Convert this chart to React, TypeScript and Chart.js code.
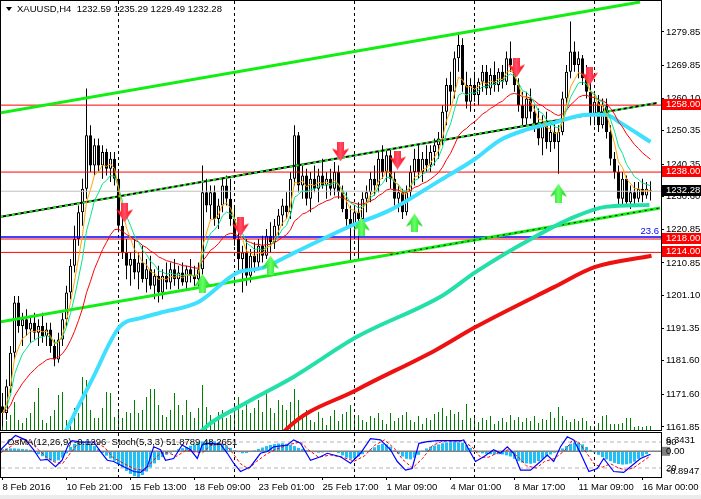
import React, { useEffect, useRef } from "react";
import { Chart, registerables } from "chart.js";

Chart.register(...registerables);

const FONT = '"Liberation Sans", Arial, sans-serif';

// ---------- price data (H4 candles) ----------
const opens = [
  1168,1166,1174,1184,1199,1192,1194,1191,1193,1190,
  1192,1189,1191,1186,1182,1188,1194,1202,1210,1218,
  1226,1233,1249,1240,1246,1240,1244,1239,1242,1236,
  1222,1214,1210,1212,1208,1211,1206,1209,1204,1207,
  1202,1207,1205,1209,1206,1208,1205,1209,1207,1206,
  1209,1232,1228,1232,1224,1228,1234,1230,1224,1218,
  1212,1214,1207,1213,1211,1216,1213,1219,1217,1222,
  1225,1228,1226,1236,1249,1234,1237,1230,1236,1233,
  1237,1234,1236,1233,1238,1232,1227,1224,1222,1226,
  1224,1230,1232,1236,1234,1242,1238,1243,1236,1230,
  1232,1226,1232,1238,1242,1238,1242,1240,1244,1246,
  1248,1256,1264,1262,1272,1276,1264,1259,1264,1261,
  1265,1268,1263,1267,1264,1268,1265,1272,1270,1264,
  1258,1254,1260,1256,1252,1248,1253,1247,1250,1247,
  1250,1260,1268,1274,1270,1272,1266,1262,1255,1259,
  1252,1258,1250,1242,1238,1230,1236,1229,1232,1230,
  1233,1231,1232.59,
];
const highs = [
  1172,1176,1186,1201,1201,1196,1197,1195,1196,1194,
  1196,1193,1193,1188,1190,1196,1204,1212,1222,1228,
  1236,1263,1252,1248,1248,1246,1245,1244,1244,1238,
  1226,1218,1214,1218,1214,1216,1212,1213,1209,1210,
  1209,1211,1211,1212,1210,1211,1210,1212,1210,1211,
  1240,1236,1234,1234,1230,1236,1237,1236,1228,1221,
  1216,1218,1215,1217,1218,1219,1221,1223,1224,1227,
  1230,1232,1238,1252,1250,1240,1239,1238,1240,1239,
  1242,1238,1239,1241,1240,1234,1232,1228,1228,1229,
  1232,1234,1238,1240,1244,1246,1245,1245,1238,1234,
  1233,1234,1240,1245,1246,1244,1246,1246,1248,1250,
  1258,1266,1268,1274,1279.5,1278,1268,1266,1268,1266,
  1270,1270,1269,1271,1269,1270,1274,1277,1272,1266,
  1262,1262,1263,1258,1257,1255,1256,1252,1253,1252,
  1262,1270,1283,1277,1274,1273,1270,1265,1262,1261,
  1260,1260,1252,1244,1240,1238,1237,1234,1235,1235,
  1236,1235,1235.29,
];
const lows = [
  1162,1164,1172,1182,1190,1186,1189,1187,1188,1186,
  1187,1186,1184,1180,1181,1186,1192,1200,1208,1216,
  1222,1230,1238,1237,1238,1236,1237,1235,1234,1220,
  1212,1206,1204,1206,1203,1205,1202,1203,1200,1199,
  1200,1203,1203,1204,1203,1204,1203,1205,1204,1204,
  1207,1226,1224,1222,1221,1226,1228,1222,1216,1208,
  1202,1204,1205,1208,1209,1211,1212,1214,1215,1219,
  1222,1224,1224,1234,1232,1230,1228,1226,1232,1229,
  1233,1230,1231,1231,1230,1226,1222,1211,1218,1212,
  1222,1226,1229,1231,1232,1236,1235,1233,1228,1226,
  1224,1225,1230,1234,1236,1235,1238,1238,1240,1242,
  1246,1252,1258,1260,1268,1262,1257,1256,1259,1258,
  1262,1261,1261,1262,1262,1263,1264,1268,1262,1256,
  1252,1252,1254,1250,1246,1243,1245,1244,1245,1237.5,
  1249,1258,1266,1268,1266,1264,1260,1252,1252,1250,
  1251,1248,1240,1236,1228,1228,1228,1227,1228,1229,
  1229,1230,1229.49,
];
const closes = [
  1166,1174,1184,1199,1192,1194,1191,1193,1190,1192,
  1189,1191,1186,1182,1188,1194,1202,1210,1218,1226,
  1233,1249,1240,1246,1240,1244,1239,1242,1236,1222,
  1214,1210,1212,1208,1211,1206,1209,1204,1207,1202,
  1207,1205,1209,1206,1208,1205,1209,1207,1206,1209,
  1232,1228,1232,1224,1228,1234,1230,1224,1218,1212,
  1214,1207,1213,1211,1216,1213,1219,1217,1222,1225,
  1228,1226,1236,1249,1234,1237,1230,1236,1233,1237,
  1234,1236,1233,1238,1232,1227,1224,1222,1226,1224,
  1230,1232,1236,1234,1242,1238,1243,1236,1230,1232,
  1226,1232,1238,1242,1238,1242,1240,1244,1246,1248,
  1256,1264,1262,1272,1276,1264,1259,1264,1261,1265,
  1268,1263,1267,1264,1268,1265,1272,1270,1264,1258,
  1254,1260,1256,1252,1248,1253,1247,1250,1247,1250,
  1260,1268,1274,1270,1272,1266,1262,1255,1259,1252,
  1258,1250,1242,1238,1230,1236,1229,1232,1230,1233,
  1231,1233,1232.28,
];
const volumes = [
  13,9,15,28,10,7,12,17,28,42,10,7,14,20,35,38,10,8,22,17,53,50,20,12,12,22,38,37,13,18,12,18,17,
  30,17,20,33,41,41,25,15,
  13,20,37,25,15,30,18,12,22,
  45,
  23,15,10,18,20,12,15,
  25,33,20,28,17,22,30,
  18,37,22,17,30,25,20,
  28,41,30,
  15,20,10,8,18,12,5,14,20,9,16,18,25,12,
  15,10,8,14,12,17,10,6,17,9,12,15,18,10,8,14,6,12,10,16,
  18,22,14,20,16,18,10,26,12,15,8,12,10,14,6,9,12,8,15,
  10,13,8,12,9,14,7,11,10,18,12,23,14,10,8,11,9,12,
  9,4,4,7,14,15,6,6,6,7,12,12,3,4,3,4,4,
];

// long moving averages: [bar, price]
const ma50Points = [
  [14.5,1157],[16,1160.9],[22.35,1175.9],[29.25,1191.7],[35,1194.5],[39.25,1195.9],[49,1199.2],
  [59,1208.1],[64.75,1209.3],[72.75,1213.8],[86.5,1221.6],[97,1226.7],[109.5,1235.6],[117.75,1241.6],
  [124.5,1247.6],[130.75,1250.6],[137.75,1252.7],[146.25,1255.1],[150.75,1255.1],[154.5,1252.7],[162,1247.0],
];
const ma144Points = [
  [48.25,1157.9],[50,1160.9],[59,1167.8],[72.75,1176.8],[88.5,1188.7],[110.25,1201.3],[118.25,1208.1],
  [133,1218.6],[143,1224.6],[150.75,1227.6],[161.75,1228.2],
];
const ma200Points = [
  [69,1157.9],[70.75,1160.9],[88.5,1172.9],[108.25,1184.8],[118.25,1191.7],[138,1203.7],[148,1209.6],[162.25,1213.0],
];

// trend lines: [bar, price]
const channelUpper = [[-0.625,1255.65],[159.4,1288.81]];
const channelMiddle = [[-0.625,1224.58],[163.6,1258.64]];
const channelLower = [[-0.625,1193.21],[164.4,1227.27]];
const channelLowerDotsFrom = 97;

// horizontal levels
const redLevels = [1258, 1238, 1218, 1214];
const fiboLevel = 1218.6;
const fiboLabel = "23.6";
const lastPrice = 1232.28;

// signals: [bar, price]
const sellSignals = [[30.5,1225.8],[59.5,1221.6],[84.5,1244.0],[98.75,1241.6],[128.5,1269.1],[146.75,1266.7]];
const buySignals = [[50,1204.8],[67,1210.2],[89.75,1221.6],[103,1222.8],[139,1231.7]];

// axes
const priceTicks = [1279.85,1269.85,1260.10,1250.35,1240.35,1230.60,1220.85,1210.85,1201.10,1191.35,1181.60,1171.60,1161.85];
const weekSeparators = [29, 58, 88, 118, 148];
const timeTickBars = [0,16,32,48,64,80,96,112,128,144,160];
const timeLabels = ["8 Feb 2016","10 Feb 21:00","15 Feb 13:00","18 Feb 09:00","23 Feb 01:00","25 Feb 17:00","1 Mar 09:00","4 Mar 01:00","8 Mar 17:00","11 Mar 09:00","16 Mar 00:00"];
const titleText = "XAUUSD,H4  1232.59 1235.29 1229.49 1232.28";

// lower panel
const osma = [
  0.7,0.9,1.0,1.0,0.9,0.8,0.7,0.5,
  -0.3,-1.0,-1.7,-2.5,-3.2,
  -3.5,-3.1,-2.2,
  -0.7,
  1.5,2.6,3.2,3.5,3.5,
  2.8,1.8,0.8,
  -0.6,-1.5,-2.5,-3.3,
  -4.5,-5.6,-6.8,-7.8,-8.6,-8.9,-8.2,
  -7.0,-5.6,-4.2,-3.0,-2.0,
  -1.2,-0.5,0.2,0.7,1.1,1.5,
  1.9,2.4,2.9,3.4,3.7,3.7,3.5,3.1,2.6,2.0,
  1.2,0.4,-0.3,-0.7,-0.6,-0.2,0.3,
  0.8,1.3,1.8,2.2,2.5,2.7,2.8,2.6,
  2.3,1.8,1.2,0.8,0.4,
  0.1,-0.3,-0.5,-0.4,-0.2,0.2,0.0,-0.6,-1.4,-2.2,
  -2.6,-2.4,-1.8,-1.0,-0.2,0.6,
  1.4,2.2,2.6,2.4,1.6,
  0.3,-0.8,-1.8,-2.6,-2.8,-2.2,-1.2,
  0.2,1.0,1.6,2.0,2.4,
  2.8,3.1,3.4,3.5,3.4,3.0,2.2,1.2,
  0.3,-0.4,-0.7,-0.9,-1.0,-1.1,-1.0,-1.1,-1.4,
  -1.8,-2.6,-3.4,-3.9,-4.2,-4.3,
  -4.0,-3.4,-2.6,-1.8,-1.1,
  -0.5,0.2,1.0,1.8,
  2.6,3.1,3.0,2.4,1.5,
  0.5,-0.4,-1.2,-2.0,-2.8,-3.4,
  -4.0,-4.4,-4.6,-4.5,-4.2,-3.6,
  -2.6,-1.8,-1.0,-0.13,
];
const stochMain = [
  [-0.5,62],[2,85],[3.25,95],[5.75,85],[7.8,62],[9.5,38],[11.2,40],[13.25,23],[14.9,38],[16.6,77],[17.4,83],
  [19.5,80],[22.8,80],[24.5,58],[26.2,38],[27.8,35],[30.3,23],[32.8,12],[34.5,10],[36.2,23],[37.8,69],[39.5,62],
  [40.75,38],[42.8,42],[44.9,73],[47,62],[48.7,42],[49.9,73],[51.2,77],[54.5,75],[56.2,54],[57.8,31],[59.5,12],
  [62,23],[64.5,54],[66.2,58],[67.8,69],[71.2,73],[72.8,85],[74.5,77],[77,38],[79.5,46],[81.2,54],[84.5,46],
  [87,31],[89.5,54],[92,88],[94.5,85],[97,62],[98.7,35],[100.75,15],[102.4,19],[104.1,77],[106.2,81],[108.7,83],
  [114.5,83],[115.3,85],[116.6,62],[118.25,35],[120.3,46],[122.8,62],[124.5,54],[126.2,69],[127.8,54],[129.5,15],
  [132,15],[134.5,35],[136.2,50],[137.8,35],[139.5,69],[141.2,92],[142.8,85],[144.5,54],[146.6,12],[148.7,19],
  [150.3,42],[152.8,12],[155.3,10],[157,23],[159.5,42],[162,51.88],
];
const stochSignal = [
  [-0.5,55],[2.5,72],[4.5,88],[7,80],[9,62],[11,45],[13,34],[15,30],[17,55],[19,78],[23,80],[25.5,68],[27.5,45],
  [30,32],[33,18],[35.5,14],[37.5,35],[39.5,55],[41.5,55],[43.5,47],[46,62],[48,57],[50,55],[52,72],[55.5,76],
  [57.5,55],[59.5,30],[61.5,18],[63.5,35],[66,52],[68,62],[72,75],[74.5,80],[76.5,62],[79,45],[82,50],[85,45],
  [88,36],[90.5,48],[93,72],[95.5,85],[98,65],[100,40],[102.5,20],[105,42],[107.5,72],[110,82],[115,82],
  [117.5,68],[119.5,45],[121.5,45],[124,56],[126.5,62],[129,45],[131,25],[133.5,20],[135.5,35],[138,42],
  [140.5,60],[142.5,84],[144,80],[146,55],[148,28],[150,22],[152,30],[154,20],[156,15],[158,22],[160,35],[162,48.27],
];
const osmaLabel = "OsMA(12,26,9) -0.1296  Stoch(5,3,3) 51.8789 48.2651";
const osmaMax = 6.3431;
const osmaMin = -8.8947;
const stochLevels = [80, 20];

// ---------- helpers ----------
const X_MIN = -0.375;
const X_MAX = 164.625;
const P_MIN = 1160.94;
const P_MAX = 1289.41;

function ema(src: number[], period: number) {
  const k = 2 / (period + 1);
  const out: number[] = [];
  src.forEach((v, i) => out.push(i === 0 ? v : out[i - 1] + k * (v - out[i - 1])));
  return out;
}
const pts = (arr: number[][]) => arr.map(([x, y]) => ({ x, y }));
const series = (arr: number[]) => arr.map((y, x) => ({ x, y }));

function ln(data: any[], color: string, width: number, order: number, extra: any = {}) {
  return {
    type: "line",
    data,
    borderColor: color,
    backgroundColor: color,
    borderWidth: width,
    pointRadius: 0,
    fill: false,
    tension: 0,
    order,
    ...extra,
  };
}

function makeArrow(edge: string, inner: string, up: boolean) {
  const c = document.createElement("canvas");
  c.width = 17;
  c.height = 19;
  const g = c.getContext("2d")!;
  if (up) {
    g.translate(0, 19);
    g.scale(1, -1);
  }
  g.beginPath();
  g.moveTo(5, 0);
  g.lineTo(12, 0);
  g.lineTo(12, 8);
  g.lineTo(17, 6);
  g.lineTo(8.5, 19);
  g.lineTo(0, 6);
  g.lineTo(5, 8);
  g.closePath();
  const grad = g.createLinearGradient(0, 0, 17, 0);
  grad.addColorStop(0, edge);
  grad.addColorStop(0.5, inner);
  grad.addColorStop(1, edge);
  g.fillStyle = grad;
  g.fill();
  return c;
}

function separatorSets(lo: number, hi: number, axisId: string) {
  return weekSeparators.map((b) =>
    ln([{ x: b, y: lo }, { x: b, y: hi }], "#000", 1, 40, { borderDash: [3, 3], yAxisID: axisId })
  );
}

export default function App() {
  const mainRef = useRef<HTMLCanvasElement>(null);
  const subRef = useRef<HTMLCanvasElement>(null);

  useEffect(() => {
    const e5 = ema(closes, 5);
    const e8 = ema(closes, 8);
    const e21 = ema(closes, 21);
    const downArrow = makeArrow("#ff0000", "#ff4d6a", false);
    const upArrow = makeArrow("#10d010", "#66ff66", true);

    const wicks = closes.map((_, i) => ({ x: i, y: [lows[i], highs[i]] }));
    const bodies = closes.map((c, i) => {
      const lo = Math.min(opens[i], c);
      const hi = Math.max(opens[i], c);
      return { x: i, y: [lo, hi === lo ? hi + 0.15 : hi] };
    });
    const bodyColors = closes.map((c, i) => (c >= opens[i] ? "#ffffff" : "#000000"));

    const hLine = (v: number) => [{ x: X_MIN, y: v }, { x: X_MAX, y: v }];

    const mainPlugin = {
      id: "mainDeco",
      afterDraw(chart: any) {
        const { ctx, chartArea: a, scales } = chart;
        const y = scales.y;
        ctx.save();
        ctx.strokeStyle = "#000";
        ctx.lineWidth = 1;
        ctx.strokeRect(a.left - 0.5, a.top + 0.5, a.right - a.left + 1, a.bottom - a.top);
        ctx.font = `9.5px ${FONT}`;
        ctx.textBaseline = "middle";
        ctx.textAlign = "left";
        redLevels.forEach((lv) => {
          const py = Math.round(y.getPixelForValue(lv));
          ctx.fillStyle = "#ff0000";
          ctx.fillRect(a.right + 1, py - 6, 40, 11);
          ctx.fillStyle = "#ffffff";
          ctx.fillText(lv.toFixed(2), a.right + 5, py - 0.5);
        });
        const lp = Math.round(y.getPixelForValue(lastPrice));
        ctx.fillStyle = "#000000";
        ctx.fillRect(a.right + 1, lp - 6, 39, 11);
        ctx.fillStyle = "#ffffff";
        ctx.fillText(lastPrice.toFixed(2), a.right + 5, lp - 0.5);
        ctx.fillStyle = "#0000ff";
        ctx.textAlign = "right";
        ctx.fillText(fiboLabel, a.right - 2, y.getPixelForValue(fiboLevel) - 6);
        ctx.fillStyle = "#000";
        ctx.beginPath();
        ctx.moveTo(6, 7);
        ctx.lineTo(12, 7);
        ctx.lineTo(9, 11);
        ctx.closePath();
        ctx.fill();
        ctx.textAlign = "left";
        ctx.fillText(titleText, 17, 9);
        ctx.restore();
      },
    };

    const main = new Chart(mainRef.current!, {
      type: "bar",
      data: {
        datasets: [
          { type: "line", data: pts(sellSignals), showLine: false, pointStyle: downArrow, pointRadius: 8, order: 0 },
          { type: "line", data: pts(buySignals), showLine: false, pointStyle: upArrow, pointRadius: 8, order: 0 },
          ln(series(e5), "#ffa500", 1, 5),
          ln(series(e8), "#00e68c", 1, 6),
          ln(series(e21), "#ff0000", 1, 7),
          ln(pts(ma50Points), "#3fe0ff", 4, 8, { cubicInterpolationMode: "monotone" }),
          ln(pts(ma144Points), "#22e0a8", 4, 9, { cubicInterpolationMode: "monotone" }),
          ln(pts(ma200Points), "#ee1111", 4, 10, { cubicInterpolationMode: "monotone" }),
          ln(pts(channelUpper), "#11ee11", 3, 12),
          ln(pts(channelMiddle), "#000000", 2, 13),
          ln(pts(channelMiddle), "#22ee22", 2, 12, { borderDash: [3, 3] }),
          ln(pts(channelLower), "#11ee11", 3, 13),
          ln(
            [
              {
                x: channelLowerDotsFrom,
                y:
                  channelLower[0][1] +
                  (channelLower[1][1] - channelLower[0][1]) *
                    ((channelLowerDotsFrom - channelLower[0][0]) / (channelLower[1][0] - channelLower[0][0])),
              },
              { x: channelLower[1][0], y: channelLower[1][1] },
            ],
            "#000000",
            1,
            12,
            { borderDash: [2, 4] }
          ),
          ...redLevels.map((v) => ln(hLine(v), "#ff0000", 1, 15)),
          ln(hLine(fiboLevel), "#0000ff", 1.5, 15),
          ln(hLine(lastPrice), "#c0c0c0", 1, 16),
          {
            type: "bar",
            data: bodies,
            backgroundColor: bodyColors,
            borderColor: "#000",
            borderWidth: 1,
            borderSkipped: false,
            barThickness: 3,
            grouped: false,
            inflateAmount: 0,
            order: 20,
          },
          {
            type: "bar",
            data: wicks,
            backgroundColor: "#000",
            borderWidth: 0,
            barThickness: 1,
            grouped: false,
            inflateAmount: 0,
            order: 21,
          },
          ...separatorSets(1100, 1300, "y"),
          {
            type: "bar",
            data: series(volumes),
            yAxisID: "yv",
            backgroundColor: "#008000",
            borderWidth: 0,
            barThickness: 1,
            grouped: false,
            inflateAmount: 0,
            order: 50,
          },
        ] as any,
      },
      options: {
        animation: false,
        responsive: false,
        events: [],
        layout: { autoPadding: false, padding: { left: 1, right: 0, top: 0, bottom: 1 } },
        plugins: { legend: { display: false }, tooltip: { enabled: false } },
        scales: {
          x: { type: "linear", min: X_MIN, max: X_MAX, display: false, offset: false, bounds: "data", grid: { offset: false } },
          y: {
            type: "linear",
            position: "right",
            min: P_MIN,
            max: P_MAX,
            bounds: "data",
            border: { display: false },
            grid: { drawOnChartArea: false, drawTicks: true, tickLength: 3, color: "#000" },
            ticks: {
              autoSkip: false,
              padding: 2,
              color: "#000",
              font: { family: FONT, size: 9.5 },
              callback: (v: any) => Number(v).toFixed(2),
            },
            afterBuildTicks: (s: any) => {
              s.ticks = priceTicks.map((v) => ({ value: v }));
            },
            afterFit: (s: any) => {
              s.width = 40;
              s.paddingTop = 0;
              s.paddingBottom = 0;
            },
          },
          yv: { type: "linear", display: false, min: 0, max: 430, bounds: "data" },
        },
      } as any,
      plugins: [mainPlugin],
    } as any);

    const subPlugin = {
      id: "subDeco",
      afterDraw(chart: any) {
        const { ctx, chartArea: a, scales } = chart;
        ctx.save();
        ctx.strokeStyle = "#000";
        ctx.lineWidth = 1;
        ctx.strokeRect(a.left - 0.5, a.top - 0.5, a.right - a.left + 1, a.bottom - a.top + 1);
        ctx.font = `9.5px ${FONT}`;
        ctx.textBaseline = "middle";
        ctx.textAlign = "left";
        ctx.fillStyle = "#000";
        ctx.fillText(osmaLabel, 7, a.top + 9);
        const z = scales.yo.getPixelForValue(0);
        ctx.fillStyle = "#808080";
        ctx.fillRect(a.right + 1, z - 4.5, 8, 9);
        ctx.fillStyle = "#000";
        ctx.fillText(osmaMax.toFixed(4), a.right + 5, a.top + 7);
        ctx.fillText(String(stochLevels[0]), a.right + 5, scales.ys.getPixelForValue(stochLevels[0]));
        ctx.fillText("0.00", a.right + 5, z);
        ctx.fillText(String(stochLevels[1]), a.right + 5, scales.ys.getPixelForValue(stochLevels[1]));
        ctx.fillText(osmaMin.toFixed(4), a.right + 6, a.bottom - 6);
        ctx.restore();
      },
    };

    const sub = new Chart(subRef.current!, {
      type: "bar",
      data: {
        datasets: [
          ln(pts(stochMain), "#0000ff", 1.2, 1, { yAxisID: "ys" }),
          ln(pts(stochSignal), "#ff0000", 1, 2, { yAxisID: "ys", borderDash: [3, 2] }),
          ...stochLevels.map((v) =>
            ln([{ x: X_MIN, y: v }, { x: X_MAX, y: v }], "#b4b4b4", 1, 8, { yAxisID: "ys", borderDash: [4, 3] })
          ),
          ln([{ x: X_MIN, y: 0 }, { x: X_MAX, y: 0 }], "#808080", 1.5, 9, { yAxisID: "yo" }),
          {
            type: "bar",
            data: series(osma),
            yAxisID: "yo",
            backgroundColor: "#1ec0f5",
            borderWidth: 0,
            barThickness: 3,
            grouped: false,
            inflateAmount: 0,
            order: 10,
          },
          ...separatorSets(-100, 200, "ys"),
        ] as any,
      },
      options: {
        animation: false,
        responsive: false,
        events: [],
        layout: { autoPadding: false, padding: { left: 1, right: 40, top: 2, bottom: 0 } },
        plugins: { legend: { display: false }, tooltip: { enabled: false } },
        scales: {
          x: {
            type: "linear",
            min: X_MIN,
            max: X_MAX,
            bounds: "data",
            offset: false,
            position: "bottom",
            border: { display: false },
            grid: { drawOnChartArea: false, drawTicks: true, tickLength: 3, color: "#000", offset: false },
            ticks: {
              autoSkip: false,
              maxRotation: 0,
              minRotation: 0,
              align: "start",
              padding: 2,
              color: "#000",
              font: { family: FONT, size: 9.5 },
              callback: (_v: any, i: number) => timeLabels[i],
            },
            afterBuildTicks: (s: any) => {
              s.ticks = timeTickBars.map((v) => ({ value: v }));
            },
            afterFit: (s: any) => {
              s.height = 18;
              s.paddingLeft = 0;
              s.paddingRight = 0;
            },
          },
          yo: { type: "linear", display: false, min: osmaMin, max: osmaMax, bounds: "data" },
          ys: { type: "linear", display: false, min: -0.7, max: 100.8, bounds: "data" },
        },
      } as any,
      plugins: [subPlugin],
    } as any);

    return () => {
      main.destroy();
      sub.destroy();
    };
  }, []);

  return (
    <div style={{ position: "fixed", left: 0, top: 0, width: 701, height: 499, background: "#fff", overflow: "hidden" }}>
      <canvas ref={mainRef} width={701} height={431} style={{ position: "absolute", left: 0, top: 0, width: 701, height: 431 }} />
      <canvas ref={subRef} width={701} height={64} style={{ position: "absolute", left: 0, top: 431, width: 701, height: 64 }} />
      <div style={{ position: "absolute", left: 0, top: 495, width: 701, height: 4, background: "#ececec" }} />
    </div>
  );
}
